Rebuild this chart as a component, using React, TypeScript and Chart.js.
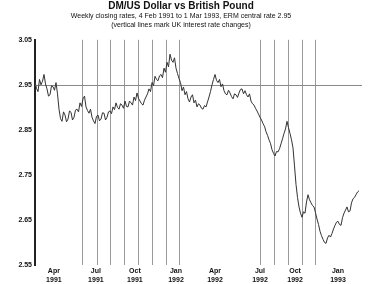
import React, { useEffect, useRef } from "react";
import { Chart, registerables } from "chart.js";

Chart.register(...registerables);

const titleText = "DM/US Dollar vs British Pound";
const subtitleLines = [
  "Weekly closing rates, 4 Feb 1991 to 1 Mar 1993, ERM central rate 2.95",
  "(vertical lines mark UK interest rate changes)",
];

// half-weekly closing values (x = position / 2, in weeks)
const rateValues = [
  2.957, 2.942, 2.935, 2.962, 2.95, 2.958, 2.973, 2.952, 2.941, 2.925,
  2.928, 2.948, 2.946, 2.938, 2.955, 2.93, 2.896, 2.875, 2.869, 2.89,
  2.883, 2.868, 2.874, 2.892, 2.889, 2.872, 2.878, 2.894, 2.896, 2.89,
  2.91, 2.902, 2.919, 2.925, 2.901, 2.893, 2.887, 2.896, 2.878, 2.87,
  2.864, 2.88, 2.883, 2.87, 2.874, 2.888, 2.887, 2.872, 2.878, 2.89,
  2.892, 2.886, 2.901, 2.895, 2.91, 2.9, 2.896, 2.908, 2.905, 2.898,
  2.914, 2.902, 2.901, 2.914, 2.91, 2.905, 2.923, 2.915, 2.932, 2.92,
  2.914, 2.908, 2.905, 2.916, 2.923, 2.93, 2.941, 2.935, 2.955, 2.948,
  2.969, 2.962, 2.959, 2.97, 2.973, 2.966, 2.987, 2.978, 3.0, 2.99,
  3.018, 3.005, 3.0, 3.01, 2.987, 2.975, 2.964, 2.955, 2.937, 2.945,
  2.928, 2.935, 2.919, 2.912, 2.923, 2.928, 2.91, 2.916, 2.901, 2.908,
  2.905, 2.898, 2.896, 2.904, 2.901, 2.912, 2.923, 2.935, 2.95, 2.962,
  2.973, 2.96, 2.955, 2.962, 2.946, 2.952, 2.937, 2.93, 2.928, 2.938,
  2.932, 2.924, 2.919, 2.93, 2.928, 2.922, 2.932, 2.94, 2.941, 2.93,
  2.937, 2.928, 2.923, 2.93, 2.914, 2.908, 2.905, 2.898, 2.892, 2.885,
  2.878, 2.872, 2.864, 2.858, 2.846, 2.838, 2.828, 2.82, 2.806, 2.798,
  2.792, 2.802, 2.801, 2.808, 2.819, 2.83, 2.842, 2.852, 2.869, 2.855,
  2.842, 2.828, 2.81, 2.77, 2.729, 2.7, 2.679, 2.665, 2.656, 2.668,
  2.665, 2.69, 2.706, 2.695, 2.688, 2.682, 2.679, 2.666, 2.652, 2.64,
  2.625, 2.615, 2.607, 2.6, 2.598, 2.61, 2.616, 2.612, 2.62, 2.63,
  2.638, 2.645, 2.647, 2.64, 2.638, 2.655, 2.665, 2.672, 2.679, 2.668,
  2.67, 2.688, 2.697, 2.7, 2.706, 2.712, 2.715,
];

const referenceRate = 2.95;
const eventWeeks = [15.7, 20.7, 25, 29.7, 34.3, 39, 43.7, 48, 75, 79.7, 84.3, 89, 93.3];
const tickWeeks = [6.3, 20.3, 33.3, 47, 60, 75, 86.7, 101];
const tickLabels = [
  ["Apr", "1991"],
  ["Jul", "1991"],
  ["Oct", "1991"],
  ["Jan", "1992"],
  ["Apr", "1992"],
  ["Jul", "1992"],
  ["Oct", "1992"],
  ["Jan", "1993"],
];
const yMin = 2.55;
const yMax = 3.05;
const yStep = 0.1;
const weekCount = 109;
const pointsPerWeek = 2;

const linesPlugin = {
  id: "refLines",
  beforeDatasetsDraw(chart: any) {
    const { ctx, chartArea, scales } = chart;
    const xs = scales.x;
    const ys = scales.y;
    ctx.save();
    ctx.lineWidth = 1;
    ctx.strokeStyle = "#9a9a9a";
    eventWeeks.forEach((w) => {
      const px = Math.round(xs.getPixelForValue(w)) + 0.5;
      ctx.beginPath();
      ctx.moveTo(px, chartArea.top);
      ctx.lineTo(px, chartArea.bottom);
      ctx.stroke();
    });
    const py = Math.round(ys.getPixelForValue(referenceRate)) + 0.5;
    ctx.strokeStyle = "#8a8a8a";
    ctx.beginPath();
    ctx.moveTo(chartArea.left, py);
    ctx.lineTo(chartArea.right, py);
    ctx.stroke();
    ctx.restore();
  },
};

export default function App() {
  const ref = useRef<HTMLCanvasElement | null>(null);
  useEffect(() => {
    document.body.style.margin = "0";
    if (!ref.current) return;
    const chart = new Chart(ref.current, {
      type: "line",
      data: {
        datasets: [
          {
            data: rateValues.map((v, i) => ({ x: i / pointsPerWeek, y: v })),
            borderColor: "#333",
            borderWidth: 1,
            pointRadius: 0,
            tension: 0,
          },
        ],
      },
      options: {
        animation: false,
        responsive: false,
        layout: { padding: { left: 0, right: 6, top: 0, bottom: 0 } },
        plugins: {
          legend: { display: false },
          tooltip: { enabled: false },
          title: {
            display: true,
            text: titleText,
            color: "#111",
            font: { family: "Liberation Sans", size: 10, weight: "bold", lineHeight: 1.2 },
            padding: { top: 0, bottom: 0 },
          },
          subtitle: {
            display: true,
            text: subtitleLines,
            color: "#111",
            font: { family: "Liberation Sans", size: 7, lineHeight: 1.2 },
            padding: { top: 0, bottom: 11 },
          },
        },
        scales: {
          x: {
            type: "linear",
            min: 0,
            max: weekCount,
            grid: { display: false, drawTicks: false },
            border: { display: false },
            afterBuildTicks: (scale: any) => {
              scale.ticks = tickWeeks.map((v) => ({ value: v }));
            },
            afterFit: (scale: any) => {
              scale.height = 19;
            },
            ticks: {
              autoSkip: false,
              maxRotation: 0,
              padding: 2,
              color: "#111",
              font: { family: "Liberation Sans", size: 7, weight: "bold", lineHeight: 1.25 },
              callback: (_v: any, i: number) => tickLabels[i],
            },
          },
          y: {
            min: yMin,
            max: yMax,
            grid: { display: false, drawTicks: false },
            border: { display: true, color: "#222", width: 2 },
            afterFit: (scale: any) => {
              scale.width = 35;
            },
            ticks: {
              stepSize: yStep,
              padding: 3,
              color: "#111",
              font: { family: "Liberation Sans", size: 7, weight: "bold" },
              callback: (v: any) => Number(v).toFixed(2),
            },
          },
        },
      },
      plugins: [linesPlugin],
    } as any);
    return () => chart.destroy();
  }, []);
  return (
    <div style={{ width: 368, height: 284 }}>
      <canvas ref={ref} width={368} height={284} />
    </div>
  );
}
